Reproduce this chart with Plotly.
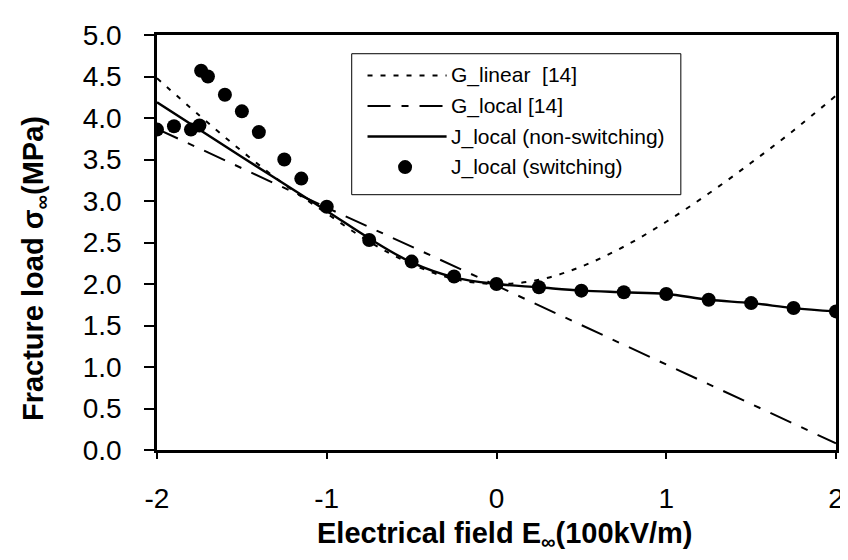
import plotly.graph_objects as go

# G_linear [14] (dotted curve)
g_linear_x = [-2.0, -1.75, -1.5, -1.25, -1.0, -0.75, -0.5, -0.25, 0.0, 0.25, 0.5, 0.75, 1.0, 1.25, 1.5, 1.75, 2.0]
g_linear_y = [4.48, 4.03, 3.60, 3.20, 2.85, 2.51, 2.24, 2.06, 2.00, 2.05, 2.21, 2.45, 2.75, 3.09, 3.46, 3.85, 4.27]

# G_local [14] (dash-dot line)
g_local_x = [-2.0, -1.0, 0.0, 1.0, 2.0]
g_local_y = [3.87, 2.92, 1.98, 1.03, 0.08]

# J_local (non-switching) (solid line)
j_ns_x = [-2.0, -1.5, -1.0, -0.75, -0.5, -0.25, 0.0, 0.25, 0.5, 0.75, 1.0, 1.25, 1.5, 1.75, 2.0]
j_ns_y = [4.19, 3.53, 2.88, 2.55, 2.26, 2.08, 2.00, 1.96, 1.92, 1.90, 1.88, 1.81, 1.77, 1.71, 1.67]

# J_local (switching) (dots)
j_sw_x = [-2.0, -1.9, -1.8, -1.75, -1.74, -1.7, -1.6, -1.5, -1.4, -1.25, -1.15, -1.0, -0.75,
          -0.5, -0.25, 0.0, 0.25, 0.5, 0.75, 1.0, 1.25, 1.5, 1.75, 2.0]
j_sw_y = [3.86, 3.90, 3.86, 3.91, 4.57, 4.50, 4.28, 4.08, 3.83, 3.50, 3.27, 2.93, 2.53,
          2.27, 2.09, 2.00, 1.96, 1.92, 1.90, 1.88, 1.81, 1.77, 1.71, 1.67]

series_names = ["G_linear \u00a0[14]", "G_local [14]", "J_local (non-switching)", "J_local (switching)"]
x_ticks = [-2, -1, 0, 1, 2]
y_ticks = [0.0, 0.5, 1.0, 1.5, 2.0, 2.5, 3.0, 3.5, 4.0, 4.5, 5.0]

FONT = "Liberation Sans, Arial, sans-serif"
W, H = 848, 560
L, R, T, B = 149, 12, 21, 118
PW, PH = W - L - R, H - T - B

def px(xp):
    return (xp - L) / PW

def py(yp):
    return (H - B - yp) / PH

DOT = "5px,8px"
DASHDOT = "23px,11px,7px,11px"

fig = go.Figure()
fig.add_trace(go.Scatter(x=g_linear_x, y=g_linear_y, mode="lines", name=series_names[0],
                         line=dict(color="black", width=2, dash=DOT, shape="spline")))
fig.add_trace(go.Scatter(x=g_local_x, y=g_local_y, mode="lines", name=series_names[1],
                         line=dict(color="black", width=2, dash=DASHDOT)))
fig.add_trace(go.Scatter(x=j_ns_x, y=j_ns_y, mode="lines", name=series_names[2],
                         line=dict(color="black", width=2.4, shape="spline")))
fig.add_trace(go.Scatter(x=j_sw_x, y=j_sw_y, mode="markers", name=series_names[3],
                         marker=dict(color="black", size=14, symbol="circle")))

# manual legend (box, samples, labels)
box = dict(x0=346, x1=679, y0=40, y1=183)
rows = [62, 93, 124, 155]
shapes = [dict(type="rect", xref="paper", yref="paper",
               x0=px(box["x0"]), x1=px(box["x1"]), y0=py(box["y1"]), y1=py(box["y0"]),
               line=dict(color="black", width=1), fillcolor="white", layer="above")]
for i, dash in enumerate([DOT, DASHDOT, "solid"]):
    shapes.append(dict(type="line", xref="paper", yref="paper",
                       x0=px(362), x1=px(442), y0=py(rows[i]), y1=py(rows[i]),
                       line=dict(color="black", width=2 if i < 2 else 2.4, dash=dash), layer="above"))
shapes.append(dict(type="circle", xref="paper", yref="paper", xsizemode="pixel", ysizemode="pixel",
                   xanchor=px(400), yanchor=py(rows[3]), x0=-7, x1=7, y0=-7, y1=7,
                   fillcolor="black", line=dict(color="black", width=0), layer="above"))

annotations = []
for i, name in enumerate(series_names):
    annotations.append(dict(text=name, xref="paper", yref="paper", x=px(444), y=py(rows[i]),
                            xanchor="left", yanchor="middle", showarrow=False,
                            font=dict(size=21, family=FONT, color="black")))
annotations.append(dict(text="<b>Electrical field E<sub>\u221e</sub>(100kV/m)</b>", xref="paper", yref="paper",
                        x=px(501), y=py(528), xanchor="center", yanchor="middle",
                        showarrow=False, font=dict(size=29, family=FONT, color="black")))
annotations.append(dict(text="<b>Fracture load \u03c3<sub>\u221e</sub>(MPa)</b>", xref="paper", yref="paper",
                        x=px(25), y=py(258), xanchor="center", yanchor="middle",
                        textangle=-90, showarrow=False, font=dict(size=29, family=FONT, color="black")))

fig.update_layout(
    width=W, height=H,
    margin=dict(l=L, r=R, t=T, b=B),
    paper_bgcolor="white", plot_bgcolor="white",
    font=dict(family=FONT, color="black", size=28),
    showlegend=False,
    shapes=shapes,
    annotations=annotations,
)
fig.update_xaxes(range=[-2, 2], tickvals=x_ticks, ticktext=[str(v) for v in x_ticks],
                 showgrid=False, zeroline=False, showline=True, linecolor="black", linewidth=2.5,
                 mirror=True, ticks="outside", ticklen=6, tickwidth=1.5, tickcolor="black",
                 ticklabelstandoff=16, tickfont=dict(size=28, family=FONT))
fig.update_yaxes(range=[0, 5], tickvals=y_ticks, ticktext=[f"{v:.1f}" for v in y_ticks],
                 showgrid=False, zeroline=False, showline=True, linecolor="black", linewidth=2.5,
                 mirror=True, ticks="outside", ticklen=10, tickwidth=1.5, tickcolor="black",
                 ticklabelstandoff=17, tickfont=dict(size=28, family=FONT))

fig.write_html("out.html")
